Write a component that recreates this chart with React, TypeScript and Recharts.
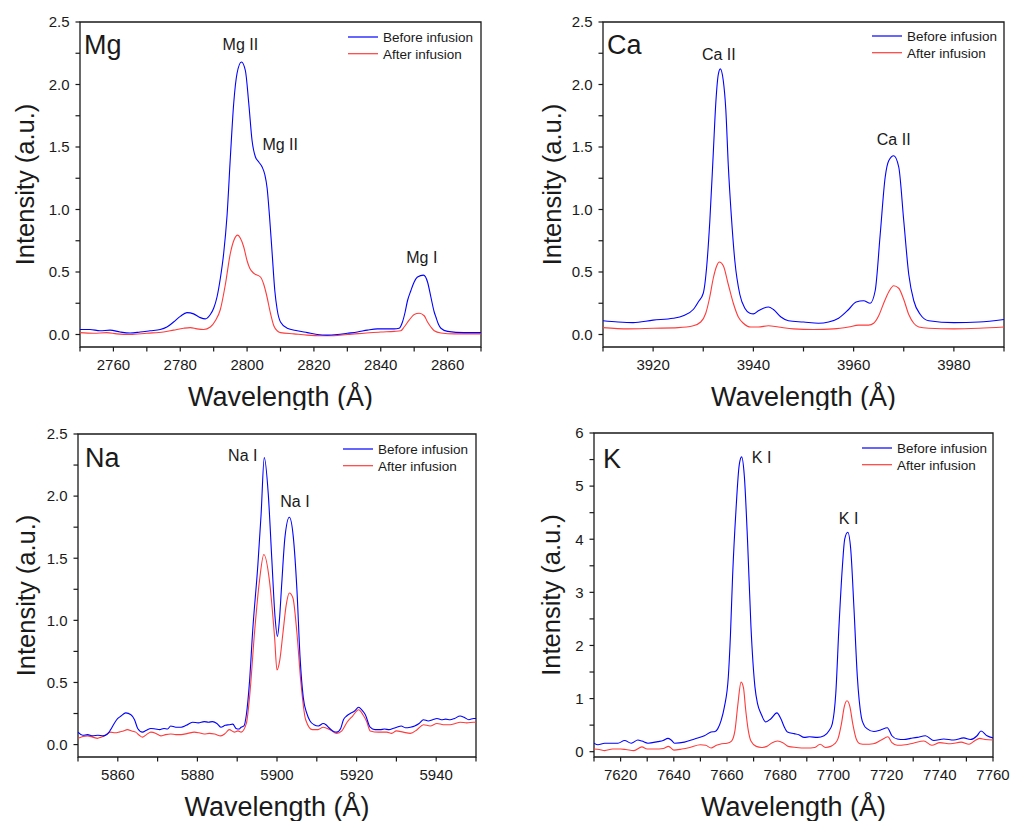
import React from 'react';
import { LineChart, Line, XAxis, YAxis, ReferenceArea, ReferenceDot, Legend } from 'recharts';

const FONT = '"Liberation Sans", Arial, Helvetica, sans-serif';
const INK = '#1a1a1a';
const BLUE = '#0000ff';
const RED = '#ff3b3b';

const seriesNames = ['Before infusion', 'After infusion'];
const xAxisTitle = 'Wavelength (Å)';
const yAxisTitle = 'Intensity (a.u.)';

// ---------------- Mg ----------------
const mgBeforeWl = [2750, 2753, 2756, 2759, 2762, 2765, 2768, 2771, 2774, 2776, 2778, 2780, 2782, 2784, 2786, 2787.5, 2789, 2790, 2791, 2792, 2793, 2794, 2795, 2796, 2797, 2798.3, 2799.5, 2800.5, 2801.5, 2802.5, 2803.5, 2804.5, 2805.3, 2806, 2806.7, 2807.5, 2808.3, 2809, 2810, 2812, 2815, 2818, 2821, 2824, 2827, 2830, 2833, 2836, 2839, 2842, 2844, 2845.5, 2846.5, 2847.3, 2848, 2849, 2850, 2851, 2852.8, 2854, 2855, 2856, 2856.5, 2857.3, 2858, 2860, 2865, 2870];
const mgBeforeVal = [0.04, 0.04, 0.03, 0.035, 0.02, 0.012, 0.02, 0.03, 0.04, 0.06, 0.1, 0.145, 0.175, 0.165, 0.135, 0.125, 0.16, 0.21, 0.3, 0.45, 0.65, 0.95, 1.42, 1.85, 2.09, 2.18, 2.11, 1.85, 1.55, 1.42, 1.38, 1.34, 1.28, 1.17, 0.95, 0.65, 0.35, 0.2, 0.1, 0.05, 0.03, 0.015, 0.0, -0.005, 0.0, 0.01, 0.02, 0.035, 0.045, 0.045, 0.045, 0.05, 0.1, 0.18, 0.27, 0.35, 0.42, 0.46, 0.475, 0.42, 0.3, 0.18, 0.14, 0.08, 0.05, 0.025, 0.015, 0.015];
const mgAfterWl = [2750, 2754, 2758, 2761, 2765, 2770, 2775, 2778, 2781, 2783, 2785, 2787, 2789, 2790.5, 2792, 2793.5, 2795, 2796, 2797.2, 2798, 2799, 2800, 2800.8, 2802, 2804, 2805, 2805.8, 2807, 2808, 2809, 2810, 2814, 2818, 2822, 2826, 2830, 2835, 2840, 2844, 2846, 2847, 2848.5, 2850, 2851.5, 2853, 2854, 2855, 2856, 2858, 2862, 2870];
const mgAfterVal = [0.015, 0.01, 0.015, 0.005, 0.0, 0.01, 0.02, 0.035, 0.05, 0.055, 0.045, 0.04, 0.06, 0.11, 0.2, 0.4, 0.65, 0.75, 0.795, 0.77, 0.7, 0.59, 0.53, 0.49, 0.46, 0.4, 0.32, 0.17, 0.07, 0.03, 0.015, 0.005, -0.005, -0.01, -0.01, 0.0, 0.01, 0.02, 0.025, 0.03, 0.06, 0.115, 0.16, 0.17, 0.15, 0.1, 0.06, 0.03, 0.012, 0.005, 0.005];
const mgXTicks = [2750, 2760, 2770, 2780, 2790, 2800, 2810, 2820, 2830, 2840, 2850, 2860, 2870];
const mgXLabels = [2760, 2780, 2800, 2820, 2840, 2860];
const mgPeakText = ['Mg II', 'Mg II', 'Mg I'];
const mgPeakWl = [2798, 2809.9, 2852.3];
const mgPeakVal = [2.32, 1.52, 0.62];

// ---------------- Ca ----------------
const caBeforeWl = [3910, 3913, 3916, 3920, 3924, 3926, 3928, 3929, 3930, 3930.7, 3931.3, 3932, 3932.5, 3933, 3933.4, 3934, 3934.5, 3935, 3935.6, 3936.3, 3937.3, 3938.3, 3939.3, 3940, 3941, 3942, 3943, 3944, 3945.5, 3947, 3950, 3953, 3955, 3957, 3959, 3960.5, 3962, 3963.3, 3964.3, 3965.3, 3966.3, 3967, 3968, 3969, 3970, 3971, 3972, 3973.3, 3975, 3980, 3985, 3990];
const caBeforeVal = [0.11, 0.1, 0.095, 0.115, 0.13, 0.15, 0.2, 0.26, 0.33, 0.55, 0.9, 1.45, 1.85, 2.08, 2.125, 2.03, 1.8, 1.35, 0.95, 0.59, 0.32, 0.21, 0.17, 0.165, 0.19, 0.21, 0.22, 0.2, 0.14, 0.11, 0.1, 0.09, 0.1, 0.13, 0.2, 0.26, 0.27, 0.25, 0.35, 0.8, 1.26, 1.39, 1.43, 1.34, 0.91, 0.48, 0.27, 0.16, 0.11, 0.095, 0.1, 0.12];
const caAfterWl = [3910, 3915, 3920, 3925, 3928, 3929.5, 3930.5, 3931.3, 3932, 3932.7, 3933.2, 3934, 3935, 3936, 3937, 3938, 3939.5, 3941, 3943, 3945, 3948, 3952, 3956, 3959, 3961, 3963, 3964, 3965, 3966, 3967, 3968, 3969, 3970, 3971, 3972, 3973, 3975, 3980, 3985, 3990];
const caAfterVal = [0.055, 0.045, 0.05, 0.055, 0.07, 0.1, 0.17, 0.3, 0.45, 0.55, 0.58, 0.55, 0.4, 0.25, 0.14, 0.09, 0.06, 0.06, 0.07, 0.06, 0.045, 0.04, 0.045, 0.06, 0.075, 0.075, 0.09, 0.15, 0.25, 0.34, 0.39, 0.37, 0.28, 0.16, 0.09, 0.06, 0.05, 0.045, 0.05, 0.06];
const caXTicks = [3910, 3920, 3930, 3940, 3950, 3960, 3970, 3980, 3990];
const caXLabels = [3920, 3940, 3960, 3980];
const caPeakText = ['Ca II', 'Ca II'];
const caPeakWl = [3933.1, 3968.0];
const caPeakVal = [2.24, 1.56];

// ---------------- Na ----------------
const naBeforeWl = [5850, 5851.2, 5852.4, 5853.7, 5855, 5856.3, 5857.4, 5858.2, 5859.1, 5860, 5860.8, 5862, 5863.3, 5864.2, 5865, 5866.2, 5867.2, 5868.3, 5869.5, 5870.5, 5871.6, 5872.5, 5873.3, 5874.6, 5875.9, 5877.2, 5878.8, 5880.2, 5881.7, 5882.8, 5883.8, 5884.9, 5885.9, 5887, 5888, 5888.9, 5889.7, 5890.4, 5891, 5891.7, 5892.3, 5893.1, 5893.9, 5895.2, 5896, 5896.8, 5897.8, 5898.7, 5899.5, 5900.1, 5900.6, 5901.2, 5902, 5903.1, 5904.1, 5905, 5905.8, 5906.6, 5907.5, 5908.3, 5909.3, 5910.4, 5911.6, 5912.3, 5912.9, 5914, 5915, 5916, 5916.7, 5917.5, 5918.4, 5919.5, 5920.5, 5921.3, 5922.2, 5923.4, 5924.6, 5925.9, 5927, 5928.2, 5929.1, 5930.1, 5931.2, 5932.3, 5933.5, 5934.6, 5935.7, 5936.8, 5938, 5939.1, 5940.2, 5941.3, 5942.4, 5943.5, 5944.6, 5946, 5947, 5948.2, 5949.4, 5950];
const naBeforeVal = [0.1, 0.075, 0.08, 0.07, 0.075, 0.07, 0.085, 0.12, 0.17, 0.21, 0.23, 0.255, 0.24, 0.2, 0.13, 0.1, 0.115, 0.13, 0.125, 0.12, 0.13, 0.125, 0.15, 0.14, 0.14, 0.155, 0.18, 0.175, 0.185, 0.18, 0.185, 0.17, 0.14, 0.155, 0.16, 0.165, 0.13, 0.125, 0.14, 0.15, 0.24, 0.51, 0.92, 1.45, 1.85, 2.31, 2.02, 1.49, 1.03, 0.87, 1.0, 1.3, 1.67, 1.83, 1.67, 1.25, 0.7, 0.38, 0.25, 0.19, 0.16, 0.15, 0.17, 0.16, 0.14, 0.11, 0.1, 0.13, 0.2, 0.23, 0.25, 0.27, 0.3, 0.28, 0.24, 0.14, 0.12, 0.12, 0.125, 0.12, 0.13, 0.14, 0.15, 0.135, 0.14, 0.15, 0.17, 0.2, 0.19, 0.2, 0.21, 0.2, 0.205, 0.2, 0.21, 0.23, 0.22, 0.2, 0.21, 0.21];
const naAfterWl = [5850, 5851.2, 5852.4, 5853.7, 5854.9, 5855.8, 5856.6, 5858.2, 5859.3, 5860.3, 5861.4, 5862.4, 5863.5, 5864.5, 5865.4, 5866.2, 5867.2, 5868.3, 5869.6, 5870.8, 5872, 5873.3, 5874.6, 5875.9, 5877.6, 5879.2, 5880.4, 5881.7, 5883, 5884.3, 5885.9, 5887, 5888, 5889.3, 5890.2, 5891, 5892.3, 5893.1, 5894.4, 5895.6, 5896.7, 5898.1, 5899.4, 5900, 5900.7, 5901.5, 5902.3, 5903.1, 5904, 5905, 5906, 5907.2, 5908.9, 5910.3, 5911.6, 5913.3, 5915, 5916.3, 5917.6, 5919, 5920.5, 5921.6, 5922.6, 5923.4, 5925.5, 5927.6, 5928.8, 5930, 5931.7, 5933.5, 5935.2, 5936.8, 5938.5, 5940.2, 5941.8, 5943.5, 5944.8, 5946, 5947.7, 5949.4, 5950];
const naAfterVal = [0.05, 0.065, 0.07, 0.06, 0.05, 0.06, 0.07, 0.1, 0.095, 0.1, 0.11, 0.12, 0.11, 0.1, 0.075, 0.06, 0.08, 0.1, 0.09, 0.07, 0.08, 0.085, 0.08, 0.08, 0.09, 0.1, 0.095, 0.085, 0.09, 0.085, 0.07, 0.09, 0.12, 0.1, 0.11, 0.1, 0.17, 0.38, 0.92, 1.32, 1.53, 1.32, 0.86, 0.6, 0.68, 0.9, 1.12, 1.22, 1.18, 0.9, 0.5, 0.2, 0.12, 0.12, 0.14, 0.12, 0.09, 0.11, 0.18, 0.23, 0.28, 0.24, 0.18, 0.11, 0.1, 0.1, 0.09, 0.11, 0.1, 0.09, 0.12, 0.16, 0.15, 0.17, 0.16, 0.16, 0.17, 0.18, 0.175, 0.18, 0.18];
const naXTicks = [5850, 5860, 5870, 5880, 5890, 5900, 5910, 5920, 5930, 5940, 5950];
const naXLabels = [5860, 5880, 5900, 5920, 5940];
const naPeakText = ['Na I', 'Na I'];
const naPeakWl = [5891.4, 5904.5];
const naPeakVal = [2.325, 1.96];

// ---------------- K ----------------
const kBeforeWl = [7610, 7611.5, 7614, 7617, 7619, 7621.5, 7624, 7626.5, 7628, 7630.3, 7634, 7636, 7637.8, 7639, 7640.3, 7644, 7647.8, 7651.5, 7654, 7655.5, 7656.5, 7657.8, 7659, 7660.5, 7661.3, 7662.1, 7663.4, 7664.6, 7665.5, 7666.5, 7667.75, 7669, 7670.5, 7671.5, 7672.75, 7674.6, 7676.5, 7678.75, 7680.25, 7681.5, 7682.75, 7685.25, 7687, 7689, 7691, 7694, 7696.5, 7698.4, 7699.6, 7700.9, 7702.1, 7703.4, 7704.25, 7705.4, 7706.5, 7707.75, 7709, 7710.5, 7711.5, 7712.75, 7715.25, 7717.75, 7720.25, 7722, 7724, 7726.5, 7729, 7731.5, 7734.6, 7737.75, 7741.5, 7745.25, 7749, 7751.5, 7754, 7755.5, 7757.75, 7760];
const kBeforeVal = [0.16, 0.13, 0.16, 0.16, 0.16, 0.21, 0.16, 0.22, 0.2, 0.16, 0.19, 0.21, 0.25, 0.22, 0.16, 0.18, 0.24, 0.3, 0.37, 0.38, 0.43, 0.59, 0.84, 1.41, 2.2, 3.3, 4.57, 5.4, 5.55, 5.2, 3.94, 2.36, 1.22, 0.9, 0.72, 0.56, 0.62, 0.73, 0.62, 0.47, 0.37, 0.34, 0.32, 0.27, 0.28, 0.27, 0.3, 0.4, 0.53, 1.1, 2.36, 3.5, 4.0, 4.13, 3.82, 2.68, 1.41, 0.65, 0.5, 0.43, 0.38, 0.41, 0.45, 0.3, 0.24, 0.23, 0.25, 0.27, 0.3, 0.21, 0.24, 0.22, 0.26, 0.23, 0.3, 0.39, 0.3, 0.26];
const kAfterWl = [7610, 7612, 7614, 7617, 7620, 7622, 7625, 7628, 7630, 7633, 7636, 7638, 7640, 7643, 7646, 7650, 7652, 7654, 7656, 7658, 7660, 7661.7, 7663, 7664, 7665.3, 7666.2, 7667, 7668, 7669, 7671, 7673, 7675, 7677, 7679, 7681, 7683, 7686, 7690, 7693, 7695, 7697, 7699, 7700.5, 7701.7, 7703, 7704.1, 7705.1, 7706.2, 7707.3, 7708.6, 7710, 7712, 7715, 7718, 7720.5, 7722, 7724, 7727, 7730, 7734, 7737, 7740, 7744, 7748, 7751, 7753, 7755, 7757, 7760];
const kAfterVal = [0.05, 0.04, 0.02, 0.05, 0.05, 0.04, 0.02, 0.09, 0.05, 0.05, 0.06, 0.1, 0.03, 0.05, 0.08, 0.13, 0.12, 0.07, 0.12, 0.15, 0.16, 0.2, 0.4, 0.85, 1.31, 1.2, 0.8, 0.4, 0.2, 0.1, 0.08, 0.1, 0.17, 0.2, 0.17, 0.1, 0.08, 0.07, 0.08, 0.14, 0.08, 0.1, 0.15, 0.24, 0.52, 0.85, 0.96, 0.85, 0.52, 0.24, 0.15, 0.14, 0.15, 0.22, 0.28, 0.17, 0.12, 0.13, 0.16, 0.2, 0.12, 0.17, 0.15, 0.18, 0.14, 0.2, 0.25, 0.23, 0.22];
const kXTicks = [7610, 7620, 7630, 7640, 7650, 7660, 7670, 7680, 7690, 7700, 7710, 7720, 7730, 7740, 7750, 7760];
const kXLabels = [7620, 7640, 7660, 7680, 7700, 7720, 7740, 7760];
const kPeakText = ['K I', 'K I'];
const kPeakWl = [7673.0, 7705.7];
const kPeakVal = [5.54, 4.39];

// y ticks
const y25Ticks = [0, 0.25, 0.5, 0.75, 1, 1.25, 1.5, 1.75, 2, 2.25, 2.5];
const y25Labels = [0, 0.5, 1, 1.5, 2, 2.5];
const y6Ticks = [0, 0.5, 1, 1.5, 2, 2.5, 3, 3.5, 4, 4.5, 5, 5.5, 6];
const y6Labels = [0, 1, 2, 3, 4, 5, 6];

type Pt = { w: number; v: number };
const zip = (w: number[], v: number[]): Pt[] => w.map((x, i) => ({ w: x, v: v[i] }));

interface PanelCfg {
  name: string;
  left: number; top: number; width: number; height: number;
  margin: { top: number; right: number; bottom: number; left: number };
  yAxisWidth: number; xAxisHeight: number;
  xDomain: [number, number]; yDomain: [number, number];
  xTicks: number[]; xLabels: number[]; yTicks: number[]; yLabels: number[]; yDigits: number;
  before: Pt[]; after: Pt[];
  peakText: string[]; peakWl: number[]; peakVal: number[];
  yTitleOffset: number; nameDx: number; nameDy: number;
  legendLeft: number; legendTop: number;
}

const panels: PanelCfg[] = [
  {
    name: 'Mg', left: 0, top: 0, width: 505, height: 410,
    margin: { top: 22, right: 24, bottom: 0, left: 0 }, yAxisWidth: 80, xAxisHeight: 63,
    xDomain: [2750, 2870], yDomain: [-0.1, 2.5],
    xTicks: mgXTicks, xLabels: mgXLabels, yTicks: y25Ticks, yLabels: y25Labels, yDigits: 1,
    before: zip(mgBeforeWl, mgBeforeVal), after: zip(mgAfterWl, mgAfterVal),
    peakText: mgPeakText, peakWl: mgPeakWl, peakVal: mgPeakVal,
    yTitleOffset: 55, nameDx: 4, nameDy: 31.6, legendLeft: 348, legendTop: 29.3,
  },
  {
    name: 'Ca', left: 505, top: 0, width: 506, height: 410,
    margin: { top: 22, right: 7, bottom: 0, left: 0 }, yAxisWidth: 98, xAxisHeight: 63,
    xDomain: [3910, 3990], yDomain: [-0.1, 2.5],
    xTicks: caXTicks, xLabels: caXLabels, yTicks: y25Ticks, yLabels: y25Labels, yDigits: 1,
    before: zip(caBeforeWl, caBeforeVal), after: zip(caAfterWl, caAfterVal),
    peakText: caPeakText, peakWl: caPeakWl, peakVal: caPeakVal,
    yTitleOffset: 51.5, nameDx: 4, nameDy: 31.5, legendLeft: 367, legendTop: 28,
  },
  {
    name: 'Na', left: 0, top: 410, width: 505, height: 411,
    margin: { top: 24, right: 29, bottom: 0, left: 0 }, yAxisWidth: 78, xAxisHeight: 64,
    xDomain: [5850, 5950], yDomain: [-0.1, 2.5],
    xTicks: naXTicks, xLabels: naXLabels, yTicks: y25Ticks, yLabels: y25Labels, yDigits: 1,
    before: zip(naBeforeWl, naBeforeVal), after: zip(naAfterWl, naAfterVal),
    peakText: naPeakText, peakWl: naPeakWl, peakVal: naPeakVal,
    yTitleOffset: 52, nameDx: 7, nameDy: 32.7, legendLeft: 343, legendTop: 31.3,
  },
  {
    name: 'K', left: 505, top: 410, width: 506, height: 411,
    margin: { top: 23, right: 18, bottom: 0, left: 0 }, yAxisWidth: 89, xAxisHeight: 64,
    xDomain: [7610, 7760], yDomain: [-0.1, 6],
    xTicks: kXTicks, xLabels: kXLabels, yTicks: y6Ticks, yLabels: y6Labels, yDigits: 0,
    before: zip(kBeforeWl, kBeforeVal), after: zip(kAfterWl, kAfterVal),
    peakText: kPeakText, peakWl: kPeakWl, peakVal: kPeakVal,
    yTitleOffset: 43.5, nameDx: 9, nameDy: 34.7, legendLeft: 357, legendTop: 30.3,
  },
];

const LegendBox = () => (
  <svg width={150} height={36} style={{ display: 'block', overflow: 'visible' }}>
    {[BLUE, RED].map((col, i) => (
      <g key={i}>
        <line x1={0} x2={30} y1={8 + i * 16.7} y2={8 + i * 16.7} stroke={col} strokeWidth={1.2} />
        <text x={35} y={8 + i * 16.7 + 4.8} fontSize={13.5} fill={INK} fontFamily={FONT}>{seriesNames[i]}</text>
      </g>
    ))}
  </svg>
);

function Panel({ c }: { c: PanelCfg }) {
  const plotLeft = c.margin.left + c.yAxisWidth;
  const plotBottom = c.height - c.margin.bottom - c.xAxisHeight;

  const xTick = (p: any) => {
    const val = p.payload.value;
    const major = c.xLabels.includes(val);
    return (
      <g>
        <line x1={p.x} x2={p.x} y1={plotBottom} y2={plotBottom + 4.5} stroke={INK} strokeWidth={1.2} />
        {major && (
          <text x={p.x} y={plotBottom + 23} textAnchor="middle" fontSize={15} fill={INK} fontFamily={FONT}>{val}</text>
        )}
      </g>
    );
  };
  const yTick = (p: any) => {
    const val = p.payload.value;
    const major = c.yLabels.includes(val);
    return (
      <g>
        <line x1={plotLeft - 4.5} x2={plotLeft} y1={p.y} y2={p.y} stroke={INK} strokeWidth={1.2} />
        {major && (
          <text x={plotLeft - 10.5} y={p.y + 5.3} textAnchor="end" fontSize={15} fill={INK} fontFamily={FONT}>{val.toFixed(c.yDigits)}</text>
        )}
      </g>
    );
  };

  const yTitle = (p: any) => {
    const vb = p.viewBox;
    const cx = vb.x + vb.width - c.yTitleOffset;
    const cy = vb.y + vb.height / 2;
    return (
      <text x={cx} y={cy} transform={`rotate(-90 ${cx} ${cy})`} textAnchor="middle" dominantBaseline="central" fontSize={25.5} fill={INK} fontFamily={FONT}>{yAxisTitle}</text>
    );
  };
  const xTitle = (p: any) => {
    const vb = p.viewBox;
    return (
      <text x={vb.x + vb.width / 2} y={vb.y + 58.5} textAnchor="middle" fontSize={27} fill={INK} fontFamily={FONT}>{xAxisTitle}</text>
    );
  };
  const nameLabel = (p: any) => {
    const vb = p.viewBox;
    return (
      <text x={vb.x + c.nameDx} y={vb.y + c.nameDy} fontSize={27} fill={INK} fontFamily={FONT}>{c.name}</text>
    );
  };

  return (
    <div style={{ position: 'absolute', left: c.left, top: c.top, width: c.width, height: c.height }}>
      <LineChart width={c.width} height={c.height} margin={c.margin}>
        <XAxis
          type="number" dataKey="w" domain={c.xDomain} ticks={c.xTicks} interval={0}
          allowDataOverflow axisLine={false} tickLine={false} tick={xTick} height={c.xAxisHeight}
          label={{ content: xTitle }}
        />
        <YAxis
          type="number" domain={c.yDomain} ticks={c.yTicks} interval={0}
          allowDataOverflow axisLine={false} tickLine={false} tick={yTick} width={c.yAxisWidth}
          label={{ content: yTitle }}
        />
        <ReferenceArea
          x1={c.xDomain[0]} x2={c.xDomain[1]} y1={c.yDomain[0]} y2={c.yDomain[1]}
          fill="none" fillOpacity={0} stroke={INK} strokeWidth={1.3} ifOverflow="visible"
          label={{ content: nameLabel }}
        />
        <Line data={c.after} dataKey="v" name={seriesNames[1]} type="monotone" stroke={RED} strokeWidth={1.1} dot={false} activeDot={false} isAnimationActive={false} />
        <Line data={c.before} dataKey="v" name={seriesNames[0]} type="monotone" stroke={BLUE} strokeWidth={1.1} dot={false} activeDot={false} isAnimationActive={false} />
        {c.peakText.map((t, i) => (
          <ReferenceDot
            key={i} x={c.peakWl[i]} y={c.peakVal[i]} r={0} fill="none" stroke="none"
            label={{ value: t, position: 'center', fontSize: 16, fill: INK, fontFamily: FONT }}
          />
        ))}
        <Legend
          layout="horizontal" verticalAlign="middle" align="center"
          wrapperStyle={{ left: c.legendLeft, top: c.legendTop, width: 150, height: 36, right: 'auto', bottom: 'auto' }}
          content={() => <LegendBox />}
        />
      </LineChart>
    </div>
  );
}

export default function App() {
  return (
    <div style={{ position: 'absolute', left: 0, top: 0, width: 1011, height: 821, background: '#fff', fontFamily: FONT, overflow: 'hidden' }}>
      {panels.map((c) => (
        <Panel key={c.name} c={c} />
      ))}
    </div>
  );
}
